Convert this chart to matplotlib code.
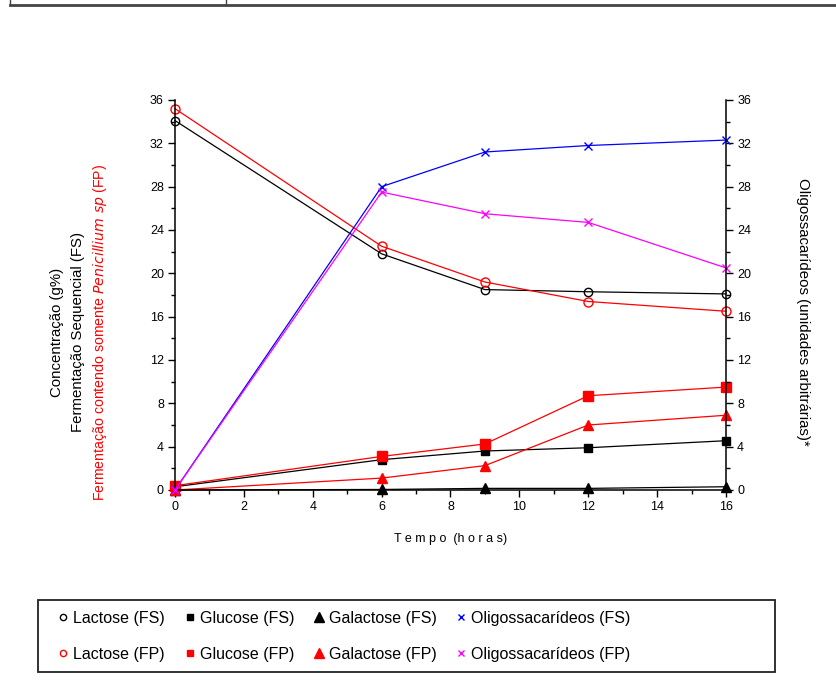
import matplotlib.pyplot as plt
import numpy as np
from matplotlib.lines import Line2D
from matplotlib.patches import Rectangle
from matplotlib.ticker import MultipleLocator

plt.rcParams['font.family'] = ['Liberation Sans', 'DejaVu Sans']

tempo = np.array([0, 6, 9, 12, 16])

lactoseFS = [34.1, 21.8, 18.5, 18.3, 18.1]
lactoseFP = [35.2, 22.5, 19.2, 17.4, 16.5]
glucoseFS = [0.3, 2.8, 3.6, 3.9, 4.55]
glucoseFP = [0.4, 3.1, 4.25, 8.7, 9.5]
galactoseFS = [0.0, 0.05, 0.15, 0.15, 0.3]
galactoseFP = [0.0, 1.1, 2.25, 6.0, 6.9]
oligoFS = [0.0, 28.0, 31.2, 31.8, 32.3]
oligoFP = [0.0, 27.5, 25.5, 24.7, 20.5]

my_dpi = 100
figure = plt.figure(figsize=(837/my_dpi, 699/my_dpi), dpi=my_dpi)
ax = figure.add_axes([175/837, 1-490/699, (726-175)/837, (490-100)/699])
ax2 = ax.twinx()

lw = 0.9
kw = dict(lw=lw, clip_on=False)
ax.plot(tempo, galactoseFS, color='k', marker='^', ms=7, **kw)
ax.plot(tempo, glucoseFS, color='k', marker='s', ms=6, **kw)
ax.plot(tempo, lactoseFS, color='k', marker='o', ms=6, mfc='none', **kw)
ax.plot(tempo, galactoseFP, color='red', marker='^', ms=7, **kw)
ax.plot(tempo, glucoseFP, color='red', marker='s', ms=7, **kw)
ax.plot(tempo, lactoseFP, color='red', marker='o', ms=6.5, mfc='none', **kw)
ax2.plot(tempo, oligoFS, color='blue', marker='x', ms=6, **kw)
ax2.plot(tempo, oligoFP, color='magenta', marker='x', ms=6, **kw)

for a in (ax, ax2):
    a.set_xlim(0, 16)
    a.set_ylim(0, 36)
    a.spines['top'].set_visible(False)
    for s in ('left', 'right', 'bottom'):
        a.spines[s].set_linewidth(1.1)
ax.spines['right'].set_visible(False)
ax2.spines['left'].set_visible(False)
ax2.spines['bottom'].set_visible(False)

ax.xaxis.set_major_locator(MultipleLocator(2))
ax.xaxis.set_minor_locator(MultipleLocator(1))
ax.yaxis.set_major_locator(MultipleLocator(4))
ax.yaxis.set_minor_locator(MultipleLocator(2))
ax2.yaxis.set_major_locator(MultipleLocator(4))
ax2.yaxis.set_minor_locator(MultipleLocator(2))
for a in (ax, ax2):
    a.tick_params(which='major', direction='out', length=5, width=1, labelsize=9, pad=3)
    a.tick_params(which='minor', direction='out', length=3, width=1)

ax.set_xlabel('T e m p o  (h o r a s)', fontsize=9, labelpad=14)

# left labels (three lines)
ymid = 1 - 332/699
figure.text(57/837, ymid, 'Concentração (g%)', rotation=90, ha='center', va='center', fontsize=10.8)
figure.text(78/837, ymid, 'Fermentação Sequencial (FS)', rotation=90, ha='center', va='center', fontsize=10.8)
figure.text(100/837, ymid, r'Fermentação contendo somente $\it{Penicillium\ sp}$ (FP)',
            rotation=90, ha='center', va='center', fontsize=10.2, color='red')
figure.text(803/837, 1 - 312/699, 'Oligossacarídeos (unidades arbitrárias)*', rotation=-90,
            ha='center', va='center', fontsize=10.8)

# legend
handles = [
    Line2D([], [], ls='none', color='k', marker='o', mfc='none', ms=4.5),
    Line2D([], [], ls='none', color='red', marker='o', mfc='none', ms=4.5),
    Line2D([], [], ls='none', color='k', marker='s', ms=5),
    Line2D([], [], ls='none', color='red', marker='s', ms=5),
    Line2D([], [], ls='none', color='k', marker='^', ms=6.5),
    Line2D([], [], ls='none', color='red', marker='^', ms=6.5),
    Line2D([], [], ls='none', color='blue', marker='x', ms=4),
    Line2D([], [], ls='none', color='magenta', marker='x', ms=4),
]
labels = ['Lactose (FS)', 'Lactose (FP)', 'Glucose (FS)', 'Glucose (FP)',
          'Galactose (FS)', 'Galactose (FP)', 'Oligossacarídeos (FS)', 'Oligossacarídeos (FP)']
figure.legend(handles, labels, ncol=4, loc='upper left', bbox_to_anchor=(57/837, 1-611/699),
              frameon=False, fontsize=11.5, handlelength=0.8, handletextpad=0.22,
              columnspacing=1.15, labelspacing=1.3, borderaxespad=0, borderpad=0)
figure.add_artist(Rectangle((38/837, 1-672/699), (775-38)/837, 72/699, transform=figure.transFigure,
                            fill=False, ec='#222222', lw=1.3))

# page rule at top
figure.add_artist(Line2D([10/837, 1], [1-5/699, 1-5/699], transform=figure.transFigure,
                         color='#444444', lw=2))
for tx in (10, 226):
    figure.add_artist(Line2D([tx/837, tx/837], [1-5/699, 1], transform=figure.transFigure,
                             color='#444444', lw=1))

figure.savefig('out.png', dpi=my_dpi)
